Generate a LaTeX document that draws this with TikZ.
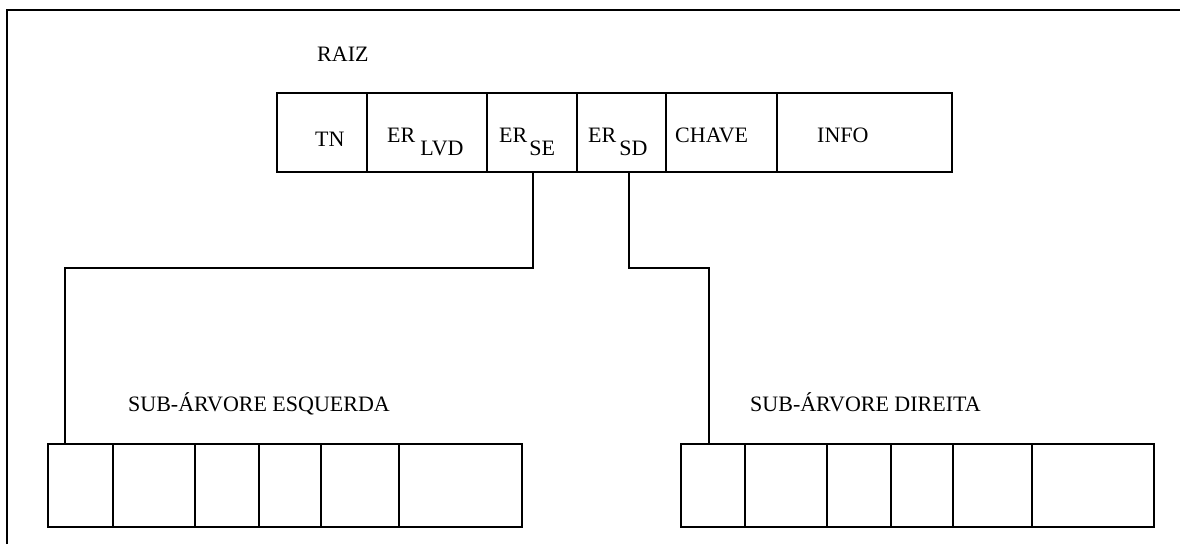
\documentclass[tikz,border=0pt]{standalone}
\usepackage{fontspec}
\setmainfont{Liberation Serif}
\begin{document}
\begin{tikzpicture}[x=1pt,y=-1pt,
  ln/.style={line width=1.6pt},
  cell/.style={draw,line width=1.6pt,inner sep=0pt,outer sep=0pt,anchor=north west},
  txt/.style={inner sep=0pt,anchor=base west,font=\fontsize{22}{26}\selectfont}]
\useasboundingbox (0,0) rectangle (1180,544);
% frame
\draw[ln] (7,544) -- (7,10) -- (1180,10);
% top record
\node[cell,minimum width=90pt,minimum height=79pt] (tn) at (277,93) {};
\node[cell,minimum width=120pt,minimum height=79pt] (rlvd) at (367,93) {};
\node[cell,minimum width=90pt,minimum height=79pt] (rse) at (487,93) {};
\node[cell,minimum width=89pt,minimum height=79pt] (rsd) at (577,93) {};
\node[cell,minimum width=111pt,minimum height=79pt] (chave) at (666,93) {};
\node[cell,minimum width=175pt,minimum height=79pt] (info) at (777,93) {};
% bottom left record
\node[cell,minimum width=65pt,minimum height=83pt] (l1) at (48,444) {};
\node[cell,minimum width=82pt,minimum height=83pt] (l2) at (113,444) {};
\node[cell,minimum width=64pt,minimum height=83pt] (l3) at (195,444) {};
\node[cell,minimum width=62pt,minimum height=83pt] (l4) at (259,444) {};
\node[cell,minimum width=78pt,minimum height=83pt] (l5) at (321,444) {};
\node[cell,minimum width=123pt,minimum height=83pt] (l6) at (399,444) {};
% bottom right record
\node[cell,minimum width=64pt,minimum height=83pt] (d1) at (681,444) {};
\node[cell,minimum width=82pt,minimum height=83pt] (d2) at (745,444) {};
\node[cell,minimum width=64pt,minimum height=83pt] (d3) at (827,444) {};
\node[cell,minimum width=62pt,minimum height=83pt] (d4) at (891,444) {};
\node[cell,minimum width=79pt,minimum height=83pt] (d5) at (953,444) {};
\node[cell,minimum width=122pt,minimum height=83pt] (d6) at (1032,444) {};
% connectors
\coordinate (jl) at (533,268);
\coordinate (jr) at (629,268);
\coordinate (tl) at (65,444);
\coordinate (tr) at (709,444);
\draw[ln] (rse.south -| jl) -- (jl) -| (tl);
\draw[ln] (rsd.south -| jr) -- (jr) -| (tr);
% texts
\node[txt] (raiz) at (317,61) {RAIZ};
\node[txt] at (315,146) {TN};
\node[txt] at (387,142) {ER\kern5pt\raisebox{-13pt}{LVD}};
\node[txt] at (499,142) {ER\kern2pt\raisebox{-13pt}{SE}};
\node[txt] at (588,142) {ER\kern3pt\raisebox{-13pt}{SD}};
\node[txt] at (675,142) {CHAVE};
\node[txt] at (817,142) {INFO};
\node[txt] (esq) at (128,411) {SUB-ÁRVORE ESQUERDA};
\node[txt] (dir) at (750,411) {SUB-ÁRVORE DIREITA};
\end{tikzpicture}
\end{document}
